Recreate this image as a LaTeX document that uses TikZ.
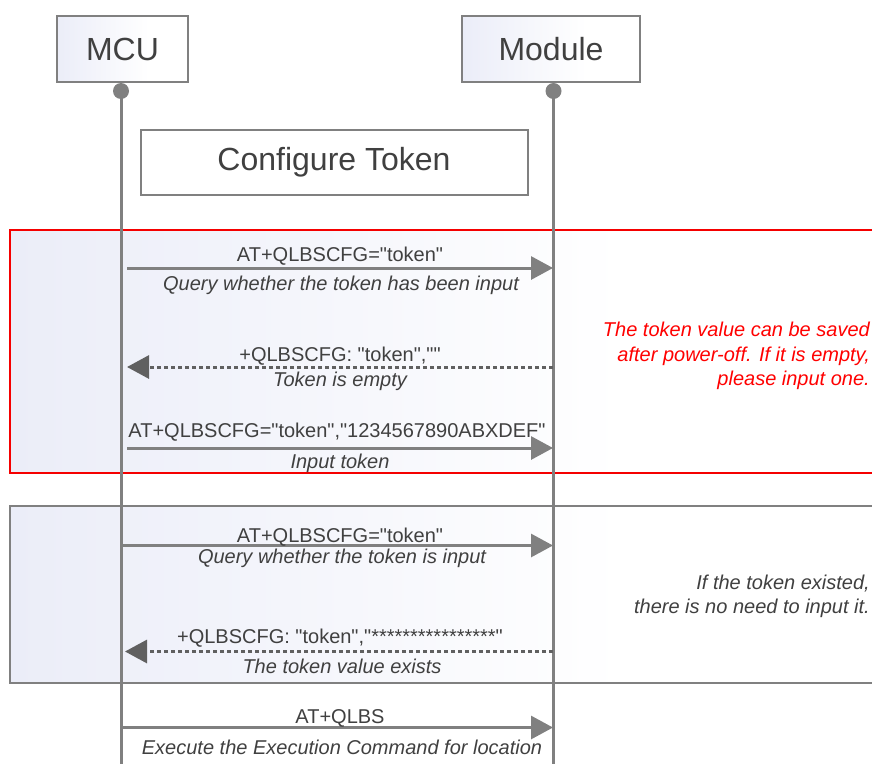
\documentclass[tikz,border=0pt]{standalone}
\usepackage{fontspec}
\setmainfont{Liberation Sans}
\usetikzlibrary{arrows.meta,calc}
\newcommand{\dq}{\XeTeXglyph5\relax}
\definecolor{boxblue}{RGB}{235,237,248}
\definecolor{lifegray}{RGB}{128,128,128}
\definecolor{txtgray}{RGB}{64,64,64}
\definecolor{dashgray}{RGB}{96,96,96}
\definecolor{noteRed}{RGB}{255,0,0}
\definecolor{frameRed}{RGB}{245,0,0}
\pgfdeclarehorizontalshading{fadeblue}{100bp}{color(0bp)=(boxblue); color(25bp)=(boxblue); color(60bp)=(white); color(100bp)=(white)}
\begin{document}
\begin{tikzpicture}[x=1pt,y=-1pt,
  actor/.style={draw=lifegray, line width=2.5pt, shading=fadeblue, minimum height=66pt, inner sep=0pt, text=txtgray, font=\fontsize{32}{38}\selectfont},
  titlebox/.style={draw=lifegray, line width=2pt, fill=white, minimum width=387pt, minimum height=65pt, inner sep=0pt, text=txtgray, font=\fontsize{32}{38}\selectfont},
  lifeline/.style={draw=lifegray, line width=3pt},
  dot/.style={circle, fill=lifegray, minimum size=16pt, inner sep=0pt},
  msg/.style={draw=lifegray, line width=3pt, -{Triangle[length=22pt,width=23pt]}},
  reply/.style={draw=dashgray, line width=3pt, dash pattern=on 4pt off 3pt, -{Triangle[length=22pt,width=23pt,fill=dashgray]}},
  lbl/.style={text=txtgray, inner sep=0pt, font=\fontsize{20}{24}\selectfont},
  note/.style={lbl, font=\fontsize{20}{24.5}\selectfont\itshape},
  rednote/.style={note, text=noteRed, align=right, anchor=east},
  graynote/.style={note, align=right, anchor=east},
  redframe/.style={draw=frameRed, line width=2.2pt, shading=fadeblue},
  grayframe/.style={draw=lifegray, line width=2.5pt, shading=fadeblue}
]
\useasboundingbox (0,0) rectangle (872,763);

% frames
\path[redframe] (10,230) rectangle (885,473);
\path[grayframe] (10,506) rectangle (885,683);

% lifelines
\coordinate (mcuTop) at (121,91);
\coordinate (mcuBot) at (121,770);
\coordinate (modTop) at (553.5,91);
\coordinate (modBot) at (553.5,770);
\draw[lifeline] (mcuTop) -- (mcuBot);
\draw[lifeline] (modTop) -- (modBot);

% title box
\node[titlebox] (title) at (334,162.5) {Configure Token};

% messages
\coordinate (m1s) at (127,268);
\coordinate (m1e) at (553,268);
\draw[msg] (m1s) -- (m1e);
\node[lbl] (m1t) at (340,256) {AT+QLBSCFG=\dq token\dq};
\node[note] (m1n) at (341,285.5) {Query whether the token has been input};

\coordinate (m2s) at (553,367);
\coordinate (m2e) at (127,367);
\draw[reply] (m2s) -- (m2e);
\node[lbl] (m2t) at (340,356) {+QLBSCFG: \dq token\dq,\dq\dq};
\node[note] (m2n) at (340,381) {Token is empty};

\coordinate (m3s) at (127,448);
\coordinate (m3e) at (553,448);
\draw[msg] (m3s) -- (m3e);
\node[lbl] (m3t) at (337,432) {AT+QLBSCFG=\dq token\dq,\dq 1234567890ABXDEF\dq};
\node[note] (m3n) at (340,463) {Input token};

\node[rednote] (rn) at (870,356) {The token value can be saved\\after power-off. If it is empty,\\please input one.};

\coordinate (m4s) at (122,545.5);
\coordinate (m4e) at (553,545.5);
\draw[msg] (m4s) -- (m4e);
\node[lbl] (m4t) at (340,537.5) {AT+QLBSCFG=\dq token\dq};
\node[note] (m4n) at (342,558.5) {Query whether the token is input};

\coordinate (m5s) at (553,651.5);
\coordinate (m5e) at (125,651.5);
\draw[reply] (m5s) -- (m5e);
\node[lbl] (m5t) at (340,638) {+QLBSCFG: \dq token\dq,\dq****************\dq};
\node[note] (m5n) at (342,666.5) {The token value exists};

\node[graynote] (gn) at (870,596.5) {If the token existed,\\there is no need to input it.};

\coordinate (m6s) at (123,727.5);
\coordinate (m6e) at (553,727.5);
\draw[msg] (m6s) -- (m6e);
\node[lbl] (m6t) at (340,718) {AT+QLBS};
\node[note] (m6n) at (342,747) {Execute the Execution Command for location};

% actors
\node[dot] (mcuDot) at (mcuTop) {};
\node[dot] (modDot) at (modTop) {};
\node[actor, minimum width=131pt] (mcu) at (122.5,49) {MCU};
\node[actor, minimum width=178pt] (mod) at (551,49) {Module};
\end{tikzpicture}
\end{document}
